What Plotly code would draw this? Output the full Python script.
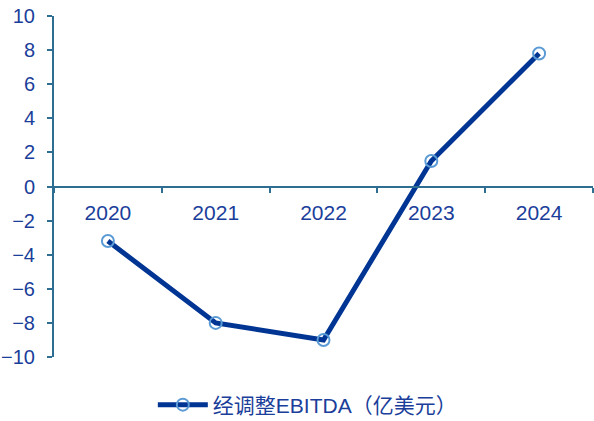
import plotly.graph_objects as go

years = ["2020", "2021", "2022", "2023", "2024"]
ebitda = [-3.2, -8.0, -9.0, 1.5, 7.8]
y_ticks = [10, 8, 6, 4, 2, 0, -2, -4, -6, -8, -10]

line_color = "#003594"
marker_color = "#5b9bd5"
axis_color = "#2e6e92"
text_color = "#1a3e9a"
font_family = "Liberation Sans, Arial, sans-serif"

fig = go.Figure()
fig.add_trace(go.Scatter(
    x=years,
    y=ebitda,
    mode="lines+markers",
    name="经调整EBITDA（亿美元）",
    line=dict(color=line_color, width=5),
    marker=dict(symbol="circle-open", size=12, color=marker_color,
                line=dict(width=2, color=marker_color)),
))

fig.update_layout(
    width=594,
    height=421,
    margin=dict(l=54, r=1, t=16, b=64, autoexpand=False),
    paper_bgcolor="white",
    plot_bgcolor="white",
    font=dict(family=font_family, color=text_color, size=20),
    showlegend=True,
    legend=dict(
        orientation="h",
        x=0.47, xanchor="center",
        yref="container",
        y=0.038, yanchor="middle",
        font=dict(size=21, color=text_color, family="Liberation Sans, Noto Sans CJK SC, sans-serif"),
        itemwidth=50,
    ),
    xaxis=dict(
        type="category",
        anchor="free",
        position=0.5,
        showline=True,
        linecolor=axis_color,
        linewidth=2,
        ticks="outside",
        tickson="boundaries",
        ticklen=5,
        tickwidth=2,
        tickcolor=axis_color,
        showgrid=False,
        ticklabelstandoff=7,
        tickfont=dict(size=21, color=text_color),
        range=[-0.5, 4.5],
        fixedrange=True,
    ),
    yaxis=dict(
        range=[-10, 10],
        tickvals=y_ticks,
        showline=True,
        linecolor=axis_color,
        linewidth=2,
        ticks="outside",
        ticklen=5,
        tickwidth=2,
        tickcolor=axis_color,
        showgrid=False,
        zeroline=False,
        ticklabelstandoff=8,
        tickfont=dict(size=20, color=text_color),
    ),
)

fig.write_html("out.html")
